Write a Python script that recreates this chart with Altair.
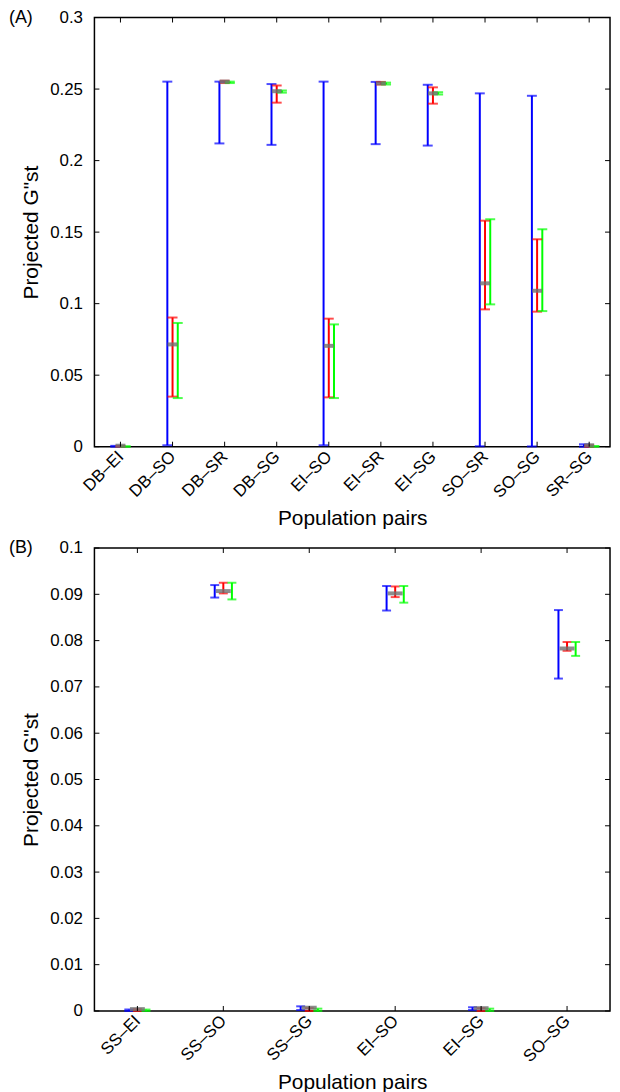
import json
import altair as alt
import pandas as pd

# ---------------- data ----------------
cats_a = ["DB–EI", "DB–SO", "DB–SR", "DB–SG", "EI–SO", "EI–SR", "EI–SG", "SO–SR", "SO–SG", "SR–SG"]
blue_lo_a = [0.0, 0.0010, 0.2120, 0.2110, 0.0010, 0.2115, 0.2105, 0.0003, 0.0002, 0.0]
blue_hi_a = [0.0006, 0.2552, 0.2552, 0.2535, 0.2552, 0.2550, 0.2530, 0.2470, 0.2453, 0.0017]
red_lo_a = [0.0, 0.0350, 0.2542, 0.2405, 0.0345, 0.2532, 0.2398, 0.0960, 0.0944, 0.0]
red_hi_a = [0.0005, 0.0903, 0.2558, 0.2525, 0.0895, 0.2550, 0.2512, 0.1580, 0.1450, 0.0010]
green_lo_a = [0.0, 0.0340, 0.2542, 0.2475, 0.0340, 0.2532, 0.2462, 0.0995, 0.0948, 0.0]
green_hi_a = [0.0003, 0.0865, 0.2552, 0.2490, 0.0855, 0.2545, 0.2478, 0.1590, 0.1520, 0.0005]
med_a = [0.0007, 0.0715, 0.2552, 0.2485, 0.0705, 0.2540, 0.2470, 0.1142, 0.1090, 0.0010]
yticks_a = [0, 0.05, 0.1, 0.15, 0.2, 0.25, 0.3]

cats_b = ["SS–EI", "SS–SO", "SS–SG", "EI–SO", "EI–SG", "SO–SG"]
blue_lo_b = [0.0, 0.0893, 0.0002, 0.0865, 0.0002, 0.0718]
blue_hi_b = [0.0003, 0.0920, 0.0010, 0.0918, 0.0008, 0.0866]
red_lo_b = [0.0, 0.0902, 0.0, 0.0894, 0.0, 0.0778]
red_hi_b = [0.0004, 0.0925, 0.0006, 0.0917, 0.0006, 0.0797]
green_lo_b = [0.0, 0.0889, 0.0, 0.0882, 0.0, 0.0767]
green_hi_b = [0.0003, 0.0925, 0.0005, 0.0918, 0.0005, 0.0797]
med_b = [0.0004, 0.0907, 0.0007, 0.0902, 0.0006, 0.0783]
yticks_b = [0, 0.01, 0.02, 0.03, 0.04, 0.05, 0.06, 0.07, 0.08, 0.09, 0.1]

series_names = ["blue", "red", "green"]
series_colors = ["#0000FF", "#FF0000", "#00FF00"]
series_offsets = [-0.1, 0.0, 0.1]

FONT = "Liberation Sans"
W = 519
TICK = 5


def panel(tag, cats, los, his, med, yticks, height, xdom, capsize, medsize):
    n = len(cats)
    rows = []
    for s, off, lo, hi in zip(series_names, series_offsets, los, his):
        for i in range(n):
            rows.append({"pos": i + 1 + off, "lo": lo[i], "hi": hi[i], "series": s})
    df = pd.DataFrame(rows)
    mdf = pd.DataFrame({"pos": list(range(1, n + 1)), "med": med})
    ymax = yticks[-1]
    xscale = alt.Scale(domain=xdom, nice=False, zero=False)
    yscale = alt.Scale(domain=[0, ymax], nice=False)
    label_expr = json.dumps(cats, ensure_ascii=False) + "[datum.value - 1]"
    xaxis = alt.Axis(values=list(range(1, n + 1)), labelExpr=label_expr, labelAngle=315,
                     labelAlign="right", labelBaseline="middle", labelPadding=7,
                     labelOverlap=False, title="Population pairs", titlePadding=7)
    yaxis = alt.Axis(values=yticks, format="~g", title='Projected G"st', titlePadding=8,
                     labelPadding=12, labelOverlap=False)
    color = alt.Color("series:N", scale=alt.Scale(domain=series_names, range=series_colors), legend=None)

    base = alt.Chart(df)
    bars = base.mark_rule(strokeWidth=2).encode(
        x=alt.X("pos:Q", scale=xscale, axis=xaxis),
        y=alt.Y("lo:Q", scale=yscale, axis=yaxis),
        y2="hi:Q",
        color=color,
    )
    cap_lo = base.mark_tick(orient="horizontal", size=capsize, thickness=2).encode(
        x="pos:Q", y="lo:Q", color=color)
    cap_hi = base.mark_tick(orient="horizontal", size=capsize, thickness=2).encode(
        x="pos:Q", y="hi:Q", color=color)
    medm = alt.Chart(mdf).mark_tick(orient="horizontal", size=medsize, thickness=4,
                                   color="#707070", opacity=0.8).encode(
        x="pos:Q", y="med:Q")

    # inward ticks (MATLAB style box)
    ydf = pd.DataFrame({"v": yticks})
    yt_left = alt.Chart(ydf).mark_rule(color="black", strokeWidth=1).encode(
        y="v:Q", x=alt.value(0), x2=alt.value(TICK))
    yt_right = alt.Chart(ydf).mark_rule(color="black", strokeWidth=1).encode(
        y="v:Q", x=alt.value(W - TICK), x2=alt.value(W))
    xdf = pd.DataFrame({"p": list(range(1, n + 1))})
    xt_bot = alt.Chart(xdf).mark_rule(color="black", strokeWidth=1).encode(
        x="p:Q", y=alt.value(height), y2=alt.value(height - TICK))
    xt_top = alt.Chart(xdf).mark_rule(color="black", strokeWidth=1).encode(
        x="p:Q", y=alt.value(0), y2=alt.value(TICK))

    label = alt.Chart(pd.DataFrame({"t": [tag]})).mark_text(
        align="left", baseline="middle", fontSize=18, font=FONT, color="black").encode(
        text="t:N", x=alt.value(-86), y=alt.value(0))

    return alt.layer(bars, cap_lo, cap_hi, medm, yt_left, yt_right, xt_bot, xt_top, label).properties(
        width=W, height=height)


pa = panel("(A)", cats_a, [blue_lo_a, red_lo_a, green_lo_a], [blue_hi_a, red_hi_a, green_hi_a],
           med_a, yticks_a, 432, [0.5, 10.4], 10, 10)
pb = panel("(B)", cats_b, [blue_lo_b, red_lo_b, green_lo_b], [blue_hi_b, red_hi_b, green_hi_b],
           med_b, yticks_b, 466, [0.5, 6.5], 9, 15)

chart = alt.vconcat(pa, pb, spacing=9).properties(
    padding={"top": -4, "left": 0, "right": 0, "bottom": 0}, background="white"
).configure_view(
    stroke="black", strokeWidth=1.5
).configure_axis(
    domain=False, ticks=False, grid=False,
    labelFont=FONT, titleFont=FONT, labelFontSize=17, titleFontSize=21,
    titleFontWeight="normal", labelColor="black", titleColor="black",
)

chart.save("out.html", embed_options={"renderer": "svg", "actions": False})
